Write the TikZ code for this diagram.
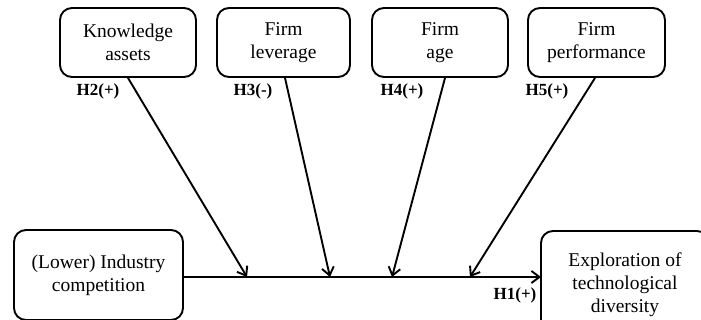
\documentclass[tikz,border=0pt]{standalone}
\usepackage{fontspec}
\setmainfont{Liberation Serif}
\usetikzlibrary{arrows.meta}
\begin{document}
\begin{tikzpicture}[x=1pt,y=-1pt,
  box/.style={draw,line width=1.9pt,rounded corners=12pt,align=center,
    font=\fontsize{19.5}{23}\selectfont,inner sep=0pt},
  hlabel/.style={font=\fontsize{17}{20}\selectfont\bfseries,inner sep=0pt},
  arr/.style={line width=1.9pt,-{Straight Barb[length=8pt,width=12pt,line width=1.9pt]}}]
\useasboundingbox (0,0) rectangle (701,320);
\clip (0,0) rectangle (701,320);
\node[box,minimum width=136pt,minimum height=69pt] (ka) at (128,42.5) {Knowledge\\assets};
\node[box,minimum width=133pt,minimum height=69pt] (fl) at (283.5,42.5) {Firm\\leverage};
\node[box,minimum width=136pt,minimum height=69pt] (fa) at (440,42.5) {Firm\\age};
\node[box,minimum width=137pt,minimum height=69pt] (fp) at (596.5,42.5) {Firm\\performance};
\node[box,minimum width=169pt,minimum height=90pt] (ic) at (98.5,275) {(Lower) Industry\\competition};
\node[box,minimum width=168pt,minimum height=108pt] (ex) at (625,285) {Exploration of\\technological\\diversity};
\coordinate (m1) at (247,277);
\coordinate (m2) at (330,277);
\coordinate (m3) at (392,277);
\coordinate (m4) at (470,277);
\coordinate (ie) at (183,277);
\coordinate (ew) at (541,277);
\draw[arr] (ie) -- (ew);
\draw[arr] (ka.south) -- (m1);
\draw[arr] ([xshift=1.5pt]fl.south) -- (m2);
\draw[arr] ([xshift=5pt]fa.south) -- (m3);
\draw[arr] ([xshift=-1.5pt]fp.south) -- (m4);
\node[hlabel] (h2) at (98,91) {H2(+)};
\node[hlabel] (h3) at (253,91) {H3(-)};
\node[hlabel] (h4) at (402,91) {H4(+)};
\node[hlabel] (h5) at (547,91) {H5(+)};
\node[hlabel] (h1) at (515,295) {H1(+)};
\end{tikzpicture}
\end{document}
